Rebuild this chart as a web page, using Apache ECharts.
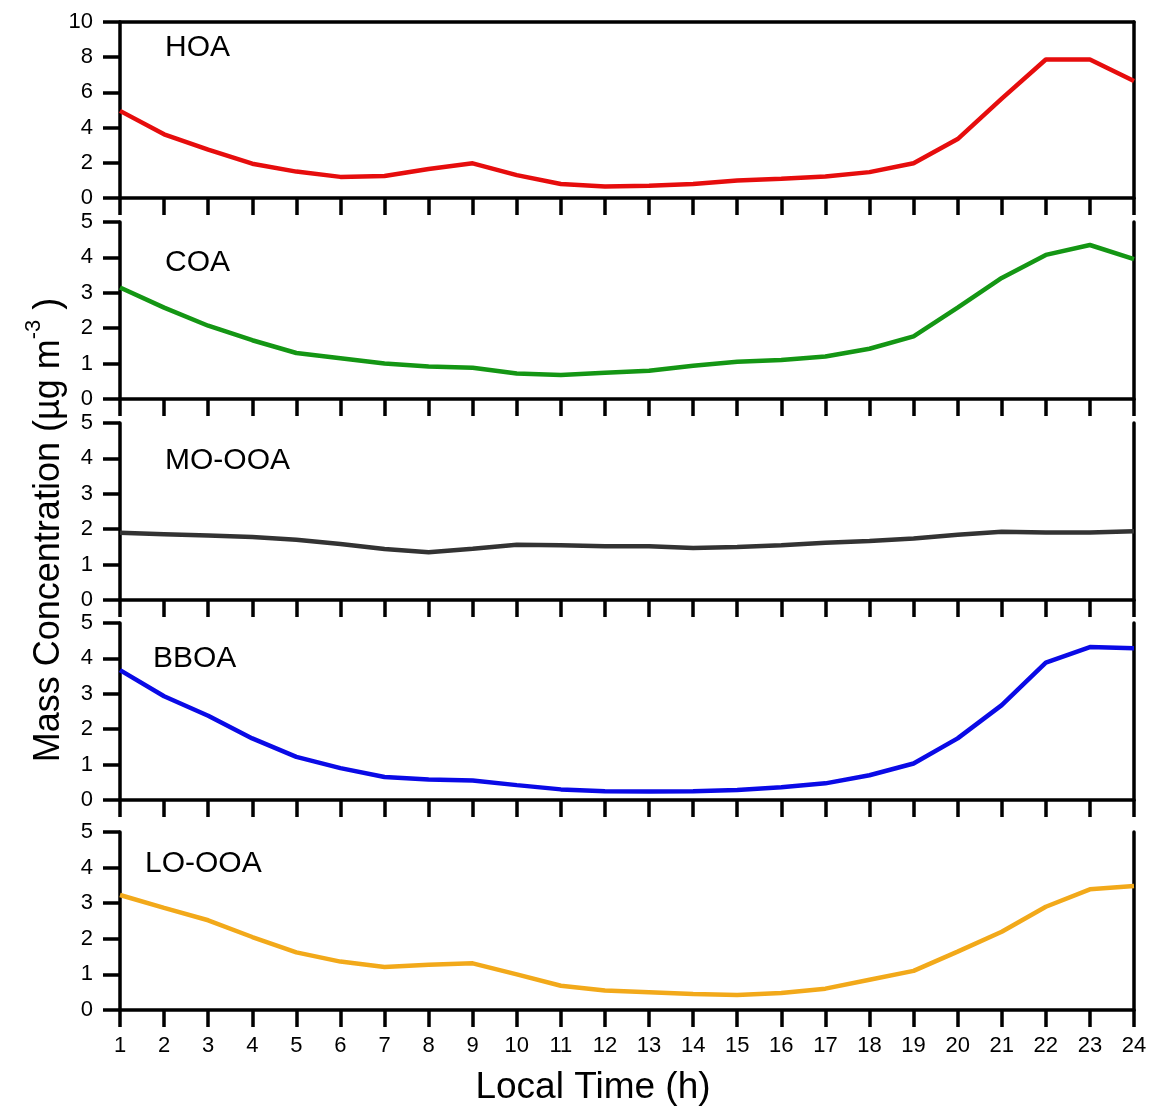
<!DOCTYPE html>
<html><head><meta charset="utf-8">
<script src="https://cdn.jsdelivr.net/npm/echarts@6/dist/echarts.min.js"></script>
<style>html,body{margin:0;padding:0;background:#fff}#c{width:1152px;height:1110px}</style>
</head><body><div id="c"></div>
<script>
const hours = [1,2,3,4,5,6,7,8,9,10,11,12,13,14,15,16,17,18,19,20,21,22,23,24];
const hoa   = [4.95,3.62,2.75,1.95,1.5,1.2,1.25,1.65,1.97,1.3,0.8,0.65,0.7,0.8,1.0,1.1,1.22,1.47,1.97,3.35,5.65,7.87,7.87,6.65];
const coa   = [3.15,2.58,2.07,1.66,1.3,1.15,1.0,0.92,0.88,0.72,0.68,0.74,0.8,0.94,1.05,1.1,1.2,1.42,1.77,2.58,3.42,4.07,4.35,3.95];
const moooa = [1.9,1.86,1.82,1.78,1.7,1.58,1.44,1.35,1.45,1.56,1.55,1.52,1.52,1.47,1.5,1.55,1.62,1.67,1.74,1.84,1.93,1.91,1.91,1.94];
const bboa  = [3.67,2.93,2.38,1.74,1.22,0.9,0.65,0.58,0.55,0.42,0.3,0.25,0.24,0.25,0.28,0.36,0.47,0.7,1.03,1.74,2.68,3.88,4.32,4.29];
const looa  = [3.23,2.87,2.52,2.05,1.62,1.36,1.21,1.27,1.31,1.0,0.68,0.55,0.5,0.45,0.42,0.48,0.6,0.85,1.1,1.64,2.2,2.9,3.39,3.48];
const names = ['HOA','COA','MO-OOA','BBOA','LO-OOA'];
const colors = ['#e60d0d','#149614','#333333','#0a0ae6','#f2a91a'];
const yMax = [10,5,5,5,5];
const yInterval = [2,1,1,1,1];
const seriesData = [hoa,coa,moooa,bboa,looa];
const xTitle = 'Local Time (h)';

const FONT = "'Liberation Sans', Arial, sans-serif";
const tops = [22,222,423,623,832];
const bottoms = [198,399,600,800,1010];
const labelPos = [[165,48],[165,263],[165,461],[153,659],[145,864]];

const grids = [], xAxes = [], yAxes = [], series = [], graphics = [];
const axisLineStyle = {color:'#000', width:3.5};
const tickStyle = {color:'#000', width:3.5};
for (let i=0;i<5;i++){
  grids.push({left:120, right:18, top:tops[i], height:bottoms[i]-tops[i], containLabel:false, outerBoundsMode:'none'});
  const last = i===4;
  xAxes.push({type:'value', gridIndex:i, min:1, max:24, interval:1, position:'bottom',
    axisLine:{show:true, onZero:false, lineStyle:axisLineStyle},
    axisTick:{show:true, inside:false, length:17, lineStyle:tickStyle},
    axisLabel:{show:last, margin:25, fontSize:22, color:'#000', fontFamily:FONT},
    splitLine:{show:false}
  });
  yAxes.push({type:'value', gridIndex:i, min:0, max:yMax[i], interval:yInterval[i], position:'left',
    axisLine:{show:true, onZero:false, lineStyle:axisLineStyle},
    axisTick:{show:true, inside:false, length:17, lineStyle:tickStyle},
    axisLabel:{show:true, margin:27, fontSize:22, color:'#000', fontFamily:FONT},
    splitLine:{show:false}
  });
  yAxes.push({type:'value', gridIndex:i, min:0, max:yMax[i], position:'right',
    axisLine:{show:true, onZero:false, lineStyle:axisLineStyle},
    axisTick:{show:false}, axisLabel:{show:false}, splitLine:{show:false}
  });
  series.push({type:'line', name:names[i], xAxisIndex:i, yAxisIndex:2*i,
    data: hours.map((h,k)=>[h, seriesData[i][k]]),
    showSymbol:false, symbol:'none', smooth:false,
    lineStyle:{color:colors[i], width:4.5}, itemStyle:{color:colors[i]}, z:1
  });
  graphics.push({type:'text', x:labelPos[i][0], y:labelPos[i][1],
    style:{text:names[i], fontSize:30, fill:'#000', fontFamily:FONT, align:'left', verticalAlign:'middle'}});
}
// top border for first panel
xAxes.push({type:'value', gridIndex:0, min:1, max:24, position:'top',
  axisLine:{show:true, onZero:false, lineStyle:axisLineStyle},
  axisTick:{show:false}, axisLabel:{show:false}, splitLine:{show:false}});

graphics.push({type:'text', x:593, y:1088,
  style:{text:xTitle, fontSize:37, fill:'#000', fontFamily:FONT, align:'center', verticalAlign:'middle'}});
graphics.push({type:'text', x:45, y:530, rotation:Math.PI/2,
  style:{text:'{a|Mass Concentration (µg m}{s|-3}{a| )}', align:'center', verticalAlign:'middle',
    fontFamily:FONT, fill:'#000',
    rich:{a:{fontSize:36, fontFamily:FONT, fill:'#000', lineHeight:44, verticalAlign:'bottom'},
          s:{fontSize:22, fontFamily:FONT, fill:'#000', lineHeight:22, verticalAlign:'top'}}}});

const chart = echarts.init(document.getElementById('c'), null, {renderer:'canvas'});
chart.setOption({
  animation:false,
  backgroundColor:'#fff',
  grid:grids, xAxis:xAxes, yAxis:yAxes, series:series, graphic:graphics
});
</script></body></html>
